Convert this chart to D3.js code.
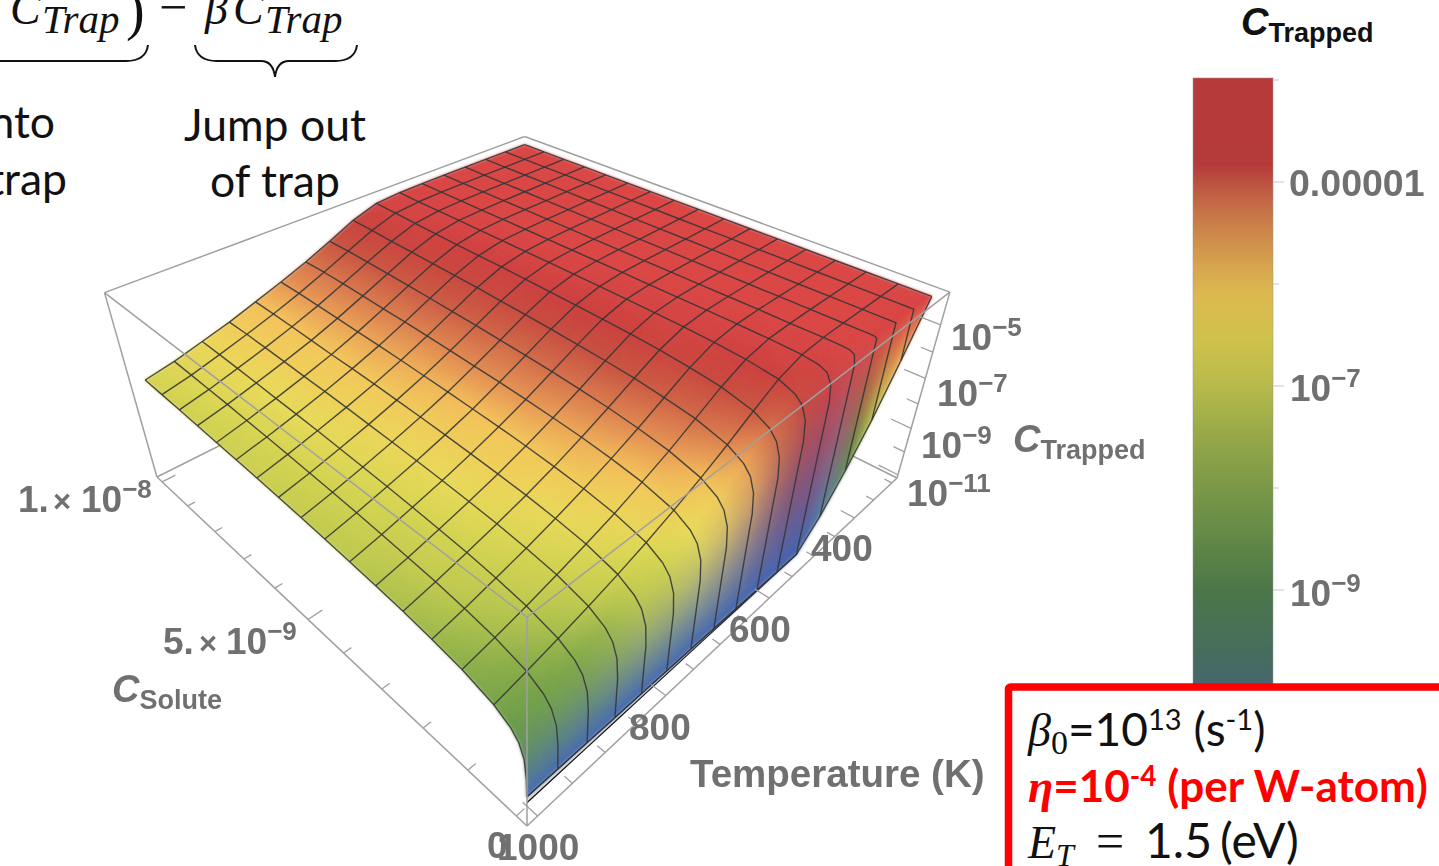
<!DOCTYPE html>
<html>
<head>
<meta charset="utf-8">
<script src="https://d3js.org/d3.v7.min.js"></script>
<style>
  html, body { margin: 0; padding: 0; background: #fff; overflow: hidden; }
  text { font-family: "Liberation Sans", Arial, sans-serif; }
</style>
</head>
<body>
<div id="chart"></div>
<script>
// Values

// temperature mesh lines (K)
const temperatures = [1000, 956.25, 912.5, 868.75, 825, 781.25, 737.5, 693.75, 650, 606.25, 562.5, 518.75, 475, 431.25, 387.5, 343.75, 300];

// solute concentration of each row, the first rows are the cliff next to zero
const solute = [0, 1e-11, 5e-11, 1.5e-10, 3e-10, 6.25e-10, 1.25e-9, 1.875e-9, 2.5e-9, 3.125e-9, 3.75e-9, 4.375e-9, 5e-9, 5.625e-9, 6.25e-9, 6.875e-9, 7.5e-9, 8.125e-9, 8.75e-9, 9.375e-9, 1e-8];
// rows that carry a mesh line (the others only shape the cliff)
const meshRows = [0, 5, 6, 7, 8, 9, 10, 11, 12, 13, 14, 15, 16, 17, 18, 19, 20];

// log10 of C_Trapped, one row per solute value, one column per temperature
const logTrapped = [
  [-10.75,-10.77,-10.79,-10.81,-10.83,-10.85,-10.87,-10.90,-10.92,-10.95,-10.98,-10.99,-10.10,-8.90,-7.50,-5.80,-4.02],
  [-10.07,-9.83,-9.56,-9.27,-8.95,-8.59,-8.18,-7.73,-7.22,-6.63,-5.96,-5.18,-4.44,-4.05,-4.00,-4.00,-4.00],
  [-9.37,-9.13,-8.86,-8.57,-8.25,-7.89,-7.48,-7.03,-6.52,-5.94,-5.27,-4.59,-4.12,-4.01,-4.00,-4.00,-4.00],
  [-8.89,-8.65,-8.38,-8.09,-7.77,-7.41,-7.00,-6.55,-6.04,-5.47,-4.84,-4.29,-4.04,-4.00,-4.00,-4.00,-4.00],
  [-8.59,-8.35,-8.08,-7.79,-7.47,-7.11,-6.70,-6.25,-5.75,-5.18,-4.60,-4.17,-4.02,-4.00,-4.00,-4.00,-4.00],
  [-8.27,-8.03,-7.76,-7.47,-7.15,-6.79,-6.38,-5.94,-5.44,-4.89,-4.38,-4.09,-4.01,-4.00,-4.00,-4.00,-4.00],
  [-7.97,-7.73,-7.47,-7.17,-6.85,-6.50,-6.09,-5.65,-5.15,-4.64,-4.24,-4.05,-4.01,-4.00,-4.00,-4.00,-4.00],
  [-7.80,-7.56,-7.29,-7.00,-6.68,-6.32,-5.92,-5.48,-5.00,-4.52,-4.17,-4.03,-4.00,-4.00,-4.00,-4.00,-4.00],
  [-7.67,-7.43,-7.16,-6.87,-6.55,-6.20,-5.79,-5.35,-4.88,-4.43,-4.13,-4.02,-4.00,-4.00,-4.00,-4.00,-4.00],
  [-7.58,-7.34,-7.07,-6.78,-6.46,-6.10,-5.70,-5.26,-4.80,-4.37,-4.11,-4.02,-4.00,-4.00,-4.00,-4.00,-4.00],
  [-7.50,-7.26,-6.99,-6.70,-6.38,-6.02,-5.62,-5.18,-4.74,-4.33,-4.09,-4.02,-4.00,-4.00,-4.00,-4.00,-4.00],
  [-7.43,-7.19,-6.92,-6.63,-6.31,-5.96,-5.55,-5.12,-4.68,-4.30,-4.08,-4.01,-4.00,-4.00,-4.00,-4.00,-4.00],
  [-7.37,-7.13,-6.86,-6.57,-6.25,-5.90,-5.50,-5.07,-4.63,-4.27,-4.07,-4.01,-4.00,-4.00,-4.00,-4.00,-4.00],
  [-7.32,-7.08,-6.81,-6.52,-6.20,-5.85,-5.45,-5.02,-4.60,-4.25,-4.06,-4.01,-4.00,-4.00,-4.00,-4.00,-4.00],
  [-7.27,-7.03,-6.76,-6.47,-6.15,-5.80,-5.40,-4.98,-4.55,-4.22,-4.06,-4.01,-4.00,-4.00,-4.00,-4.00,-4.00],
  [-7.23,-6.99,-6.72,-6.43,-6.11,-5.76,-5.36,-4.94,-4.53,-4.21,-4.05,-4.01,-4.00,-4.00,-4.00,-4.00,-4.00],
  [-7.20,-6.96,-6.69,-6.40,-6.09,-5.73,-5.33,-4.91,-4.51,-4.20,-4.05,-4.01,-4.00,-4.00,-4.00,-4.00,-4.00],
  [-7.16,-6.92,-6.65,-6.36,-6.05,-5.69,-5.29,-4.88,-4.48,-4.18,-4.04,-4.01,-4.00,-4.00,-4.00,-4.00,-4.00],
  [-7.13,-6.90,-6.62,-6.33,-6.01,-5.66,-5.26,-4.85,-4.46,-4.15,-4.04,-4.01,-4.00,-4.00,-4.00,-4.00,-4.00],
  [-7.10,-6.88,-6.60,-6.30,-5.98,-5.63,-5.24,-4.83,-4.42,-4.12,-4.04,-4.01,-4.00,-4.00,-4.00,-4.00,-4.00],
  [-7.07,-6.86,-6.58,-6.30,-5.96,-5.62,-5.25,-4.84,-4.40,-4.10,-4.03,-4.01,-4.00,-4.00,-4.00,-4.00,-4.00]
];

const tempMajor = [400, 600, 800, 1000];
const tempMinor = [300, 350, 450, 500, 550, 650, 700, 750, 850, 900, 950];
const soluteTicks = [1e-9, 2e-9, 3e-9, 4e-9, 6e-9, 7e-9, 8e-9, 9e-9, 0];
const soluteMajor = [5e-9, 1e-8];
const trappedMajor = [-5, -7, -9, -11];
const trappedMinor = [-6, -8, -10];

// colour stops of the lit surface and of the flat legend bar (log10 value -> colour)
const surfaceStops = [-11, -10.5, -10, -9.5, -9, -8.5, -8, -7.5, -7.1, -6.7, -6.4, -6, -5.6, -5.2, -4.8, -4.3, -4];
const surfaceColors = ["#4064b2", "#4a70ad", "#5480a0", "#568c60", "#5a9050", "#6c9c48", "#85ab48", "#bcc84e", "#d2d24f", "#e8da58", "#eecf58", "#f4c35a", "#e59353", "#d47049", "#c7503f", "#cb3e3c", "#d94544"];
const legendStops = [-12, -11, -9.93, -9.59, -9, -8.31, -7.63, -7, -6.55, -6.11, -5.81, -5.57, -5.23, -5, -4.83, -3.98];
const legendColors = ["#45508f", "#465c85", "#47676e", "#466d5c", "#4b7649", "#6a8f47", "#8ea348", "#b7ba4b", "#cfc24c", "#dcb950", "#d6a34e", "#cf8e4b", "#c46c46", "#bb5040", "#b53a3a", "#b83b3b"];

const width = 1439;
const height = 866;

const svg = d3.select("#chart")
  .append("svg")
  .attr("width", width)
  .attr("height", height)
  .attr("viewBox", [0, 0, width, height]);

// The reference is an enlarged bitmap, these blurs give the same softness
const defs = svg.append("defs");
[["soft", 0.45], ["shade", 1.4]].forEach(f => {
  defs.append("filter")
    .attr("id", f[0])
    .attr("x", "-5%").attr("y", "-5%").attr("width", "110%").attr("height", "110%")
    .append("feGaussianBlur")
    .attr("stdDeviation", f[1]);
});

// Box coordinates: the data fills 2%..98% of each side like Mathematica's padding
const uScale = d3.scaleLinear().domain([1000, 300]).range([0.02, 0.98]);
const vScale = d3.scaleLinear().domain([0, 1e-8]).range([0.02, 0.98]);
const zScale = d3.scaleLinear().domain([-11, -4]).range([0.02, 0.98]);

const surfaceColor = d3.scaleLinear().domain(surfaceStops).range(surfaceColors).clamp(true);
const legendColor = d3.scaleLinear().domain(legendStops).range(legendColors).clamp(true);

// Perspective camera fitted to the corners of the box in the picture
function project(u, v, z) {
  const w = 1 + 0.439 * u + 0.45 * v - 0.18 * z;
  return [
    (527 + 763.8 * u - 299.4 * v - 94.9 * z) / w,
    (826 - 138.2 * u - 134.4 * v - 320 * z) / w
  ];
}
const point = (t, c, lz) => project(uScale(t), vScale(c), zScale(lz));

const line = d3.line();
const boxLine = (a, b) => line([project(...a), project(...b)]);

function drawBoxEdges(edges) {
  svg.append("g")
    .attr("filter", "url(#soft)")
    .selectAll("path")
    .data(edges)
    .join("path")
    .attr("d", d => boxLine(d[0], d[1]))
    .attr("fill", "none")
    .attr("stroke", "#a0a0a0")
    .attr("stroke-width", 1.5);
}

// edges that lie behind the surface
drawBoxEdges([
  [[1, 1, 1], [0, 1, 1]],
  [[1, 1, 1], [1, 0, 1]],
  [[0, 1, 1], [0, 1, 0]],
  [[1, 0, 1], [1, 0, 0]],
  [[0, 1, 0], [1, 1, 0]],
  [[1, 0, 0], [1, 1, 0]],
  [[0, 0, 0], [0, 1, 0]],
  [[0, 0, 0], [1, 0, 0]]
]);

// flat strip where the surface is clipped at the bottom of the range
const clipCols = d3.range(0, 12);
svg.append("path")
  .attr("d", line([
    ...clipCols.map(j => point(temperatures[j], 0, logTrapped[0][j])),
    ...clipCols.slice().reverse().map(j => point(temperatures[j], 0, -11))
  ]))
  .attr("fill", "#dcdcdc")
  .attr("stroke", "#111")
  .attr("stroke-width", 1.2);

// Surface: every mesh cell is split into small quads. On the cliff (rows 1-3) the colour
// is a straight RGB mix between the foot and row 4, which gives the purple bands
const cliffTop = 4;
const nodeColors = logTrapped.map((row, i) => row.map((d, j) => {
  if (i === 0 || i >= cliffTop) return d3.rgb(surfaceColor(d));
  const foot = logTrapped[0][j], top = logTrapped[cliffTop][j];
  const f = top > foot ? (d - foot) / (top - foot) : 1;
  return d3.rgb(d3.interpolateRgb(surfaceColor(foot), surfaceColor(top))(Math.min(f, 1)));
}));

const split = 8;
const cells = [];
for (let i = solute.length - 2; i >= 0; i--) {
  for (let j = temperatures.length - 2; j >= 0; j--) {
    for (let a = split - 1; a >= 0; a--) {
      for (let b = split - 1; b >= 0; b--) {
        const corner = (s, t) => {
          const mix = (p00, p01, p10, p11) =>
            p00 * (1 - s) * (1 - t) + p01 * (1 - s) * t + p10 * s * (1 - t) + p11 * s * t;
          return point(
            temperatures[j] + (temperatures[j + 1] - temperatures[j]) * t,
            solute[i] + (solute[i + 1] - solute[i]) * s,
            mix(logTrapped[i][j], logTrapped[i][j + 1], logTrapped[i + 1][j], logTrapped[i + 1][j + 1])
          );
        };
        const s = a / split, t = b / split, d = 1 / split;
        const sm = s + d / 2, tm = t + d / 2;
        const chan = k => nodeColors[i][j][k] * (1 - sm) * (1 - tm) + nodeColors[i][j + 1][k] * (1 - sm) * tm
          + nodeColors[i + 1][j][k] * sm * (1 - tm) + nodeColors[i + 1][j + 1][k] * sm * tm;
        cells.push({
          pts: [corner(s, t), corner(s, t + d), corner(s + d, t + d), corner(s + d, t)],
          fill: d3.rgb(chan("r"), chan("g"), chan("b")).formatHex()
        });
      }
    }
  }
}

svg.append("g")
  .attr("filter", "url(#shade)")
  .selectAll("path")
  .data(cells)
  .join("path")
  .attr("d", d => line(d.pts) + "Z")
  .attr("fill", d => d.fill)
  .attr("stroke", d => d.fill)
  .attr("stroke-width", 0.8);

// Mesh lines
const mesh = svg.append("g")
  .attr("fill", "none")
  .attr("stroke", "#353535")
  .attr("stroke-opacity", 0.88)
  .attr("stroke-linejoin", "round")
  .attr("filter", "url(#soft)");
mesh.selectAll(".along-solute")
  .data(temperatures)
  .join("path")
  .attr("class", "along-solute")
  .attr("d", (t, j) => line(solute.map((c, i) => point(t, c, logTrapped[i][j]))))
  .attr("stroke-width", 1.4);
mesh.selectAll(".along-temp")
  .data(meshRows)
  .join("path")
  .attr("class", "along-temp")
  .attr("d", i => line(temperatures.map((t, j) => point(t, solute[i], logTrapped[i][j]))))
  .attr("stroke-width", 1.4);

// edges in front of the surface
drawBoxEdges([
  [[0, 0, 1], [0, 1, 1]],
  [[0, 0, 1], [1, 0, 1]],
  [[0, 0, 0], [0, 0, 1]]
]);

// Axis ticks
function tickPath(from, dir, len) {
  return boxLine(from, [from[0] + dir[0] * len, from[1] + dir[1] * len, from[2]]);
}
const tickData = [
  ...tempMajor.map(t => tickPath([uScale(t), 0, 0], [0, 1], 0.028)),
  ...tempMinor.map(t => tickPath([uScale(t), 0, 0], [0, 1], 0.015)),
  ...soluteMajor.map(c => tickPath([0, vScale(c), 0], [1, 0], 0.028)),
  ...soluteTicks.map(c => tickPath([0, vScale(c), 0], [1, 0], 0.015)),
  ...trappedMajor.map(l => tickPath([1, 0, zScale(l)], [0, 1], 0.04)),
  ...trappedMinor.map(l => tickPath([1, 0, zScale(l)], [0, 1], 0.022))
];
svg.append("g")
  .attr("filter", "url(#soft)")
  .selectAll("path")
  .data(tickData)
  .join("path")
  .attr("d", d => d)
  .attr("fill", "none")
  .attr("stroke", "#a0a0a0")
  .attr("stroke-width", 1.3);

// Text helper: parts are [string, size, dy, options]
function label(x, y, parts, fill, anchor) {
  const t = svg.append("text")
    .attr("x", x)
    .attr("y", y)
    .attr("fill", fill)
    .attr("text-anchor", anchor || "start");
  if (fill === axisGray) t.attr("filter", "url(#soft)");
  parts.forEach(p => {
    const o = p[3] || {};
    t.append("tspan")
      .attr("dy", p[2] || 0)
      .attr("font-size", p[1])
      .attr("font-weight", o.weight || "bold")
      .attr("font-style", o.style || "normal")
      .attr("font-family", o.family || null)
      .text(p[0]);
  });
}
const axisGray = "#6f6f6f";
const power = (base, exp) => [[base, 37, 0], [exp, 26, -14], ["", 37, 14]];

label(811, 561, [["400", 37]], axisGray);
label(729, 642, [["600", 37]], axisGray);
label(629, 740, [["800", 37]], axisGray);
label(497, 860, [["1000", 37]], axisGray);
label(487, 858, [["0", 37]], axisGray);
label(690, 787, [["Temperature (K)", 38.5]], axisGray);
label(112, 702, [["C", 38, 0, {style: "italic"}], ["Solute", 27, 7]], axisGray);
label(1013, 452, [["C", 38, 0, {style: "italic"}], ["Trapped", 27, 7]], axisGray);
label(18, 512, [["1.", 37]], axisGray);
label(53, 512, [["×", 31]], axisGray);
label(81, 512, power("10", "−8"), axisGray);
label(163, 654, [["5.", 37]], axisGray);
label(199, 654, [["×", 31]], axisGray);
label(226, 654, power("10", "−9"), axisGray);
label(951, 350, power("10", "−5"), axisGray);
label(937, 406, power("10", "−7"), axisGray);
label(921, 458, power("10", "−9"), axisGray);
label(907, 506, power("10", "−11"), axisGray);

// Legend bar, it runs on below the red box
const legendY = d3.scaleLinear().domain([-5, -9]).range([182, 590]);
const legendGrad = defs.append("linearGradient")
  .attr("id", "legend-grad")
  .attr("gradientUnits", "userSpaceOnUse")
  .attr("x1", 0).attr("x2", 0)
  .attr("y1", legendY(-3.98)).attr("y2", legendY(-12));
legendGrad.selectAll("stop")
  .data(legendStops.slice().reverse())
  .join("stop")
  .attr("offset", d => (legendY(d) - legendY(-3.98)) / (legendY(-12) - legendY(-3.98)))
  .attr("stop-color", d => legendColor(d));
svg.append("rect")
  .attr("x", 1193)
  .attr("y", legendY(-3.98))
  .attr("width", 80)
  .attr("height", legendY(-12) - legendY(-3.98))
  .attr("fill", "url(#legend-grad)")
  .attr("stroke", "#999")
  .attr("stroke-opacity", 0.5);
svg.append("g")
  .selectAll("line")
  .data([-4, -5, -6, -7, -8, -9])
  .join("line")
  .attr("x1", 1273)
  .attr("x2", d => d % 2 ? 1284 : 1279)
  .attr("y1", d => legendY(d))
  .attr("y2", d => legendY(d))
  .attr("stroke", "#cfcfcf")
  .attr("stroke-width", 1.2);
label(1289, 196, [["0.00001", 37.5]], axisGray);
label(1290, 401, power("10", "−7"), axisGray);
label(1290, 606, power("10", "−9"), axisGray);
label(1241, 35, [["C", 38, 0, {style: "italic"}], ["Trapped", 27, 7]], "#111");

// Equation fragment at the top left
const serif = {family: "Liberation Serif", style: "italic", weight: "normal"};
const upright = {family: "Liberation Serif", weight: "normal"};
const body = {family: "Lato", weight: "normal"};
label(10, 24, [["C", 46, 0, serif]], "#111");
label(42, 33, [["Trap", 41, 0, serif]], "#111");
label(126, 29, [[")", 56, 0, upright]], "#111");
label(159, 24, [["−", 50, 0, upright]], "#111");
label(205, 24, [["β", 46, 0, serif]], "#111");
label(233, 24, [["C", 46, 0, serif]], "#111");
label(265, 33, [["Trap", 41, 0, serif]], "#111");

function brace(x0, x1, tip) {
  const p = d3.path();
  const y0 = 45, y1 = 61;
  p.moveTo(x0, y0);
  p.quadraticCurveTo(x0 + 2, y1, x0 + 22, y1);
  if (tip !== null) {
    p.lineTo(tip - 14, y1);
    p.quadraticCurveTo(tip - 2, y1, tip, 77);
    p.quadraticCurveTo(tip + 2, y1, tip + 14, y1);
  }
  p.lineTo(x1 - 22, y1);
  p.quadraticCurveTo(x1 - 2, y1, x1, y0);
  return p.toString();
}
svg.append("g")
  .selectAll("path")
  .data([brace(-60, 148, null), brace(195, 357, 275)])
  .join("path")
  .attr("d", d => d)
  .attr("fill", "none")
  .attr("stroke", "#111")
  .attr("stroke-width", 2);

label(275, 141, [["Jump out", 44.5, 0, body]], "#111", "middle");
label(275, 197, [["of trap", 44.5, 0, body]], "#111", "middle");
label(55, 138, [["nto", 44.5, 0, body]], "#111", "end");
label(67, 195, [["trap", 44.5, 0, body]], "#111", "end");

// Red parameter box, open to the right and the bottom of the page
svg.append("rect")
  .attr("x", 1008.5)
  .attr("y", 687)
  .attr("width", 480)
  .attr("height", 260)
  .attr("rx", 2)
  .attr("fill", "#fff")
  .attr("stroke", "#ff0000")
  .attr("stroke-width", 7.5);

label(1028, 746, [["β", 46, 0, serif], ["0", 34, 8, upright], ["=10", 46, -8, body], ["13", 29, -16, body], [" (s", 46, 16, body], ["-1", 29, -16, body], [")", 46, 16, body]], "#111");
label(1028, 802, [["η", 46, 0, {family: "Liberation Serif", style: "italic"}], ["=10", 44, 0, {family: "Lato"}], ["-4", 28, -16, {family: "Lato"}], [" (per W-atom)", 44, 16, {family: "Lato"}]], "#ff0000");
label(1028, 858, [["E", 46, 0, serif], ["T", 32, 8, serif]], "#111");
label(1096, 858, [["=", 50, 0, upright]], "#111");
label(1145, 858, [["1.5", 48, 0, body]], "#111");
label(1220, 858, [["(eV)", 48, 0, body]], "#111");
</script>
</body>
</html>
